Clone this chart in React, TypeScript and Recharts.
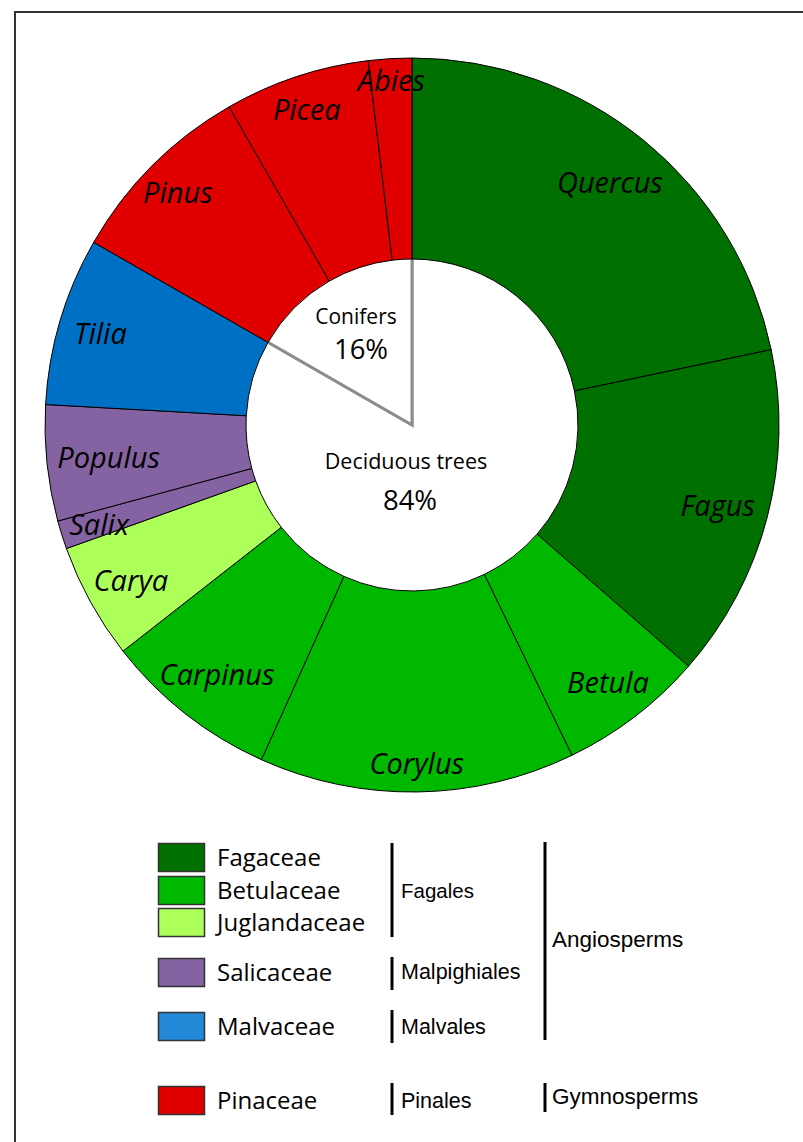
import React from 'react';
import { PieChart, Pie, Cell } from 'recharts';

// tree genera, clockwise from 12 o'clock, share of stands in %
const genera = ['Quercus', 'Fagus', 'Betula', 'Corylus', 'Carpinus', 'Carya', 'Salix', 'Populus', 'Tilia', 'Pinus', 'Picea', 'Abies'];
const shares = [21.7, 14.7, 6.4, 13.9, 7.7, 5.1, 1.25, 5.1, 7.4, 8.4, 6.4, 1.9];
const genusFamily = ['Fagaceae', 'Fagaceae', 'Betulaceae', 'Betulaceae', 'Betulaceae', 'Juglandaceae', 'Salicaceae', 'Salicaceae', 'Malvaceae', 'Pinaceae', 'Pinaceae', 'Pinaceae'];

const families = ['Fagaceae', 'Betulaceae', 'Juglandaceae', 'Salicaceae', 'Malvaceae', 'Pinaceae'];
const sliceColors = ['#007000', '#00b800', '#adff5a', '#8563a3', '#0070c4', '#e00000'];
const legendColors = ['#007000', '#00b800', '#adff5a', '#8563a3', '#2288d8', '#e00000'];

const groups = ['Deciduous trees', 'Conifers'];
const groupPercent = ['84%', '16%'];
const coniferFamilies = ['Pinaceae'];

const orders = ['Fagales', 'Malpighiales', 'Malvales', 'Pinales'];
const classes = ['Angiosperms', 'Gymnosperms'];

const data = genera.map((name, i) => ({ name, value: shares[i], family: genusFamily[i] }));
const coniferShare = data.filter(d => coniferFamilies.includes(d.family)).reduce((s, d) => s + d.value, 0);
const groupData = [
  { name: groups[0], value: 100 - coniferShare },
  { name: groups[1], value: coniferShare },
];

const RADIAN = Math.PI / 180;
const CX = 412;
const CY = 425;
const labelFont = '"Open Sans", Lato, sans-serif';
const orderFont = '"Liberation Sans", Arial, sans-serif';

// label distance from centre, tuned per slice to follow the original placement
const labelRadius: Record<string, number> = {
  Quercus: 314, Fagus: 316, Betula: 323, Corylus: 338, Carpinus: 316, Carya: 321,
  Salix: 328, Populus: 305, Tilia: 325, Pinus: 331, Picea: 334, Abies: 346,
};

const renderLabel = (props: any) => {
  const { cx, cy, midAngle, name } = props;
  const r = labelRadius[name] ?? 320;
  const x = cx + r * Math.cos(-midAngle * RADIAN);
  const y = cy + r * Math.sin(-midAngle * RADIAN);
  return (
    <text x={x} y={y} textAnchor="middle" dominantBaseline="central" fontFamily={labelFont} fontStyle="italic" fontSize={29} fill="#000">
      {name}
    </text>
  );
};

// legend rows: box top edges
const rowTops = [843, 876, 908, 958, 1012, 1086];

function Overlay() {
  return (
    <svg width={803} height={1142} style={{ position: 'absolute', left: 0, top: 0, pointerEvents: 'none' }}>
      {/* centre texts */}
      <text x={356} y={324} textAnchor="middle" fontFamily={labelFont} fontSize={21} fill="#000">{groups[1]}</text>
      <text x={361} y={359} textAnchor="middle" fontFamily={labelFont} fontSize={27.5} fill="#000">{groupPercent[1]}</text>
      <text x={406} y={469} textAnchor="middle" fontFamily={labelFont} fontSize={21.5} fill="#000">{groups[0]}</text>
      <text x={410} y={510} textAnchor="middle" fontFamily={labelFont} fontSize={27.5} fill="#000">{groupPercent[0]}</text>

      {families.map((f, i) => (
        <g key={f}>
          <rect x={158.5} y={rowTops[i] + 0.5} width={46} height={28} fill={legendColors[i]} stroke="#333" strokeWidth={1.5} />
          <text x={217} y={rowTops[i] + 23} fontFamily={labelFont} fontSize={24} fill="#000">{f}</text>
        </g>
      ))}
      {/* order brackets */}
      <line x1={392} y1={843} x2={392} y2={937} stroke="#000" strokeWidth={3} />
      <text x={401} y={898} fontFamily={orderFont} fontSize={20.5} fill="#000">{orders[0]}</text>
      <line x1={392} y1={957} x2={392} y2={990} stroke="#000" strokeWidth={3} />
      <text x={401} y={979} fontFamily={orderFont} fontSize={21.5} fill="#000">{orders[1]}</text>
      <line x1={392} y1={1010} x2={392} y2={1043} stroke="#000" strokeWidth={3} />
      <text x={401} y={1034} fontFamily={orderFont} fontSize={21.5} fill="#000">{orders[2]}</text>
      <line x1={392} y1={1083} x2={392} y2={1115} stroke="#000" strokeWidth={3} />
      <text x={401} y={1108} fontFamily={orderFont} fontSize={21.5} fill="#000">{orders[3]}</text>
      {/* class brackets */}
      <line x1={545} y1={842} x2={545} y2={1040} stroke="#000" strokeWidth={3} />
      <text x={552} y={947} fontFamily={orderFont} fontSize={22.5} fill="#000">{classes[0]}</text>
      <line x1={545} y1={1083} x2={545} y2={1112} stroke="#000" strokeWidth={3} />
      <text x={552} y={1104} fontFamily={orderFont} fontSize={22.5} fill="#000">{classes[1]}</text>
    </svg>
  );
}

export default function App() {
  return (
    <div style={{ position: 'absolute', left: 0, top: 0, width: 803, height: 1142, background: '#fff', overflow: 'hidden' }}>
      <div style={{ position: 'absolute', left: 14, top: 11, width: 800, height: 1140, borderLeft: '2px solid #333', borderTop: '2px solid #333' }} />
      <PieChart width={803} height={840} margin={{ top: 0, right: 0, bottom: 0, left: 0 }} style={{ position: 'absolute', left: 0, top: 0 }}>
        <Pie
          data={groupData}
          dataKey="value"
          cx={CX}
          cy={CY}
          innerRadius={0}
          outerRadius={169}
          startAngle={90}
          endAngle={-270}
          stroke="#8c8c8c"
          strokeWidth={3}
          fill="#fff"
          isAnimationActive={false}
        />
        <Pie
          data={data}
          dataKey="value"
          cx={CX}
          cy={CY}
          innerRadius={166}
          outerRadius={367}
          startAngle={90}
          endAngle={-270}
          stroke="#000"
          strokeWidth={1}
          label={renderLabel}
          labelLine={false}
          isAnimationActive={false}
        >
          {data.map(d => (
            <Cell key={d.name} fill={sliceColors[families.indexOf(d.family)]} />
          ))}
        </Pie>
      </PieChart>
      <Overlay />
    </div>
  );
}
